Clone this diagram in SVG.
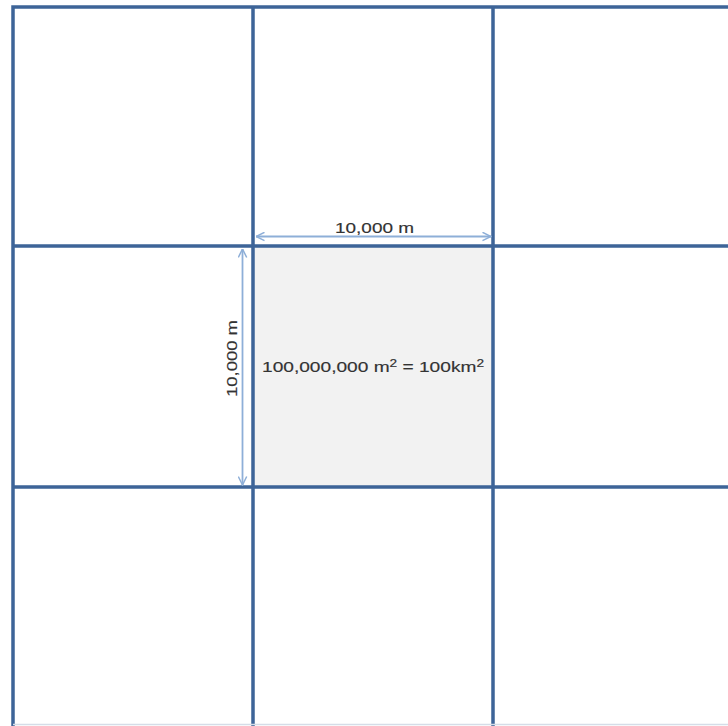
<svg xmlns="http://www.w3.org/2000/svg" width="728" height="726" viewBox="0 0 728 726">
<defs>
<style>
.grid{stroke:#3d6498;stroke-width:3.5;fill:none}
.dim{stroke:#8eafd8;stroke-width:1.8;fill:none}
.lbl{font-family:"Liberation Sans",Arial,sans-serif;font-size:14px;fill:#333;stroke:#333;stroke-width:0.15}
</style>
<marker id="ah" viewBox="0 0 10 10" refX="9.5" refY="5" markerWidth="10" markerHeight="10" orient="auto-start-reverse" markerUnits="userSpaceOnUse">
<path d="M1,0.8 L9.5,5 L1,9.2" fill="none" stroke="#8eafd8" stroke-width="1.5"/>
</marker>
</defs>
<rect width="728" height="726" fill="#fff"/>
<g id="cell-center">
<rect x="254" y="247" width="238" height="239" fill="#f2f2f2"/>
<text class="lbl" x="262" y="372" textLength="222" lengthAdjust="spacingAndGlyphs">100,000,000 m<tspan font-size="10" dy="-5">2</tspan><tspan dy="5"> = 100km</tspan><tspan font-size="10" dy="-5">2</tspan></text>
</g>
<g id="grid">
<path class="grid" d="M13,726 V7 H728"/>
<path class="grid" d="M253,7 V726 M493,7 V726 M13,246 H728 M13,487 H728"/>
<path d="M13,724.5 H728" stroke="#d5dde8" stroke-width="1.5"/>
</g>
<g id="connectors">
<line class="dim" x1="256" y1="236.5" x2="491" y2="236.5" marker-start="url(#ah)" marker-end="url(#ah)"/>
<line class="dim" x1="242.5" y1="249" x2="242.5" y2="485" marker-start="url(#ah)" marker-end="url(#ah)"/>
</g>
<g id="labels">
<text class="lbl" x="335" y="233" textLength="79" lengthAdjust="spacingAndGlyphs">10,000 m</text>
<text class="lbl" x="0" y="0" textLength="77" lengthAdjust="spacingAndGlyphs" transform="translate(237,397) rotate(-90)">10,000 m</text>
</g>
</svg>
